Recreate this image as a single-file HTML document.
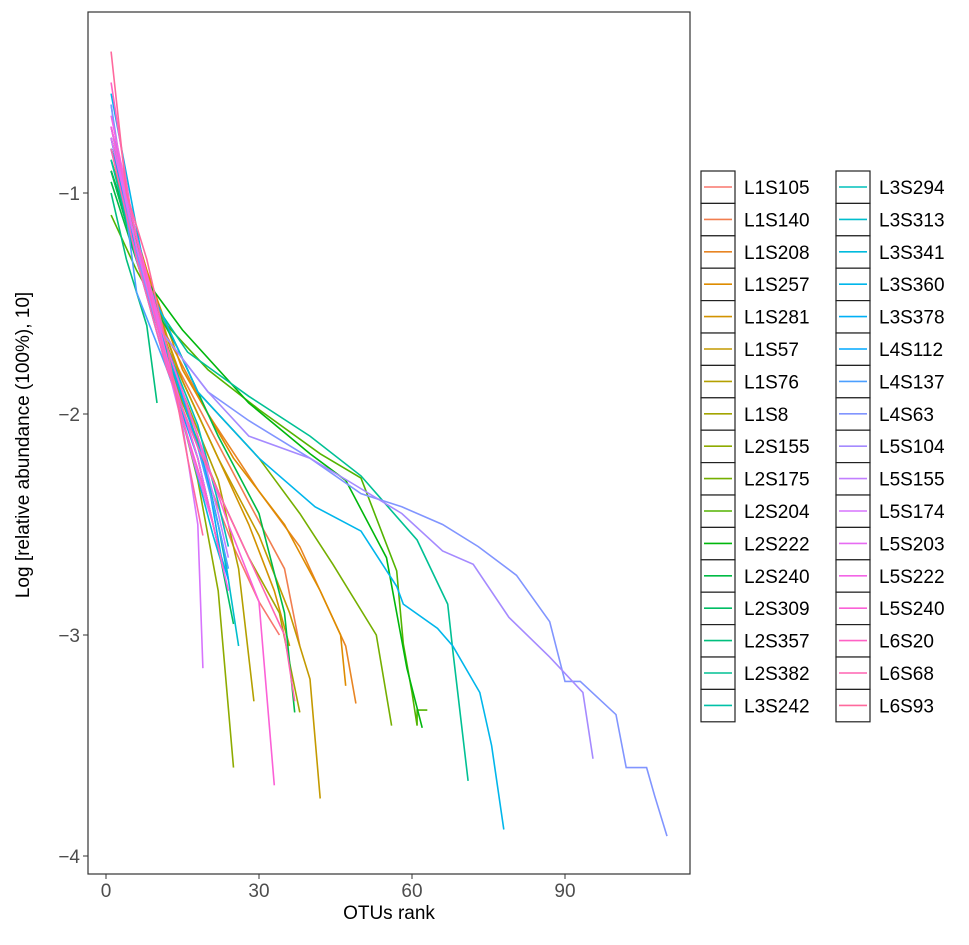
<!DOCTYPE html>
<html><head><meta charset="utf-8"><style>
body{margin:0;background:#fff;font-family:"Liberation Sans",sans-serif}
svg text{font-family:"Liberation Sans",sans-serif}
</style></head><body>
<svg id="chart" width="969" height="940" xmlns="http://www.w3.org/2000/svg"></svg>
<script>
const seriesNames=["L1S105","L1S140","L1S208","L1S257","L1S281","L1S57","L1S76","L1S8","L2S155","L2S175","L2S204","L2S222","L2S240","L2S309","L2S357","L2S382","L3S242","L3S294","L3S313","L3S341","L3S360","L3S378","L4S112","L4S137","L4S63","L5S104","L5S155","L5S174","L5S203","L5S222","L5S240","L6S20","L6S68","L6S93"];
const xTicks=[0,30,60,90];
const yTicks=[-1,-2,-3,-4];
const seriesValues=[
[[1,-0.7],[5,-1.1],[10,-1.55],[15,-1.9],[20,-2.3],[25,-2.6],[30,-2.85],[34,-3.0]],
[[1,-0.8],[6,-1.2],[12,-1.7],[20,-2.05],[28,-2.4],[35,-2.7],[38,-3.05]],
[[1,-0.75],[6,-1.2],[12,-1.65],[20,-2.0],[30,-2.35],[38,-2.6],[44,-2.9],[47,-3.05],[49,-3.31]],
[[1,-0.8],[8,-1.35],[15,-1.8],[25,-2.2],[35,-2.5],[42,-2.8],[46,-3.0],[47,-3.23]],
[[1,-0.9],[8,-1.4],[15,-1.85],[22,-2.2],[28,-2.5],[33,-2.8],[36,-3.05]],
[[1,-0.85],[7,-1.3],[14,-1.8],[22,-2.2],[30,-2.55],[36,-2.9],[40,-3.2],[42,-3.74]],
[[1,-0.9],[8,-1.4],[15,-1.9],[22,-2.3],[26,-2.7],[29,-3.3]],
[[1,-0.8],[8,-1.45],[15,-1.95],[22,-2.35],[28,-2.65],[34,-2.9],[38,-3.35]],
[[1,-0.9],[6,-1.3],[12,-1.75],[18,-2.3],[22,-2.8],[25,-3.6]],
[[1,-0.85],[8,-1.4],[18,-1.9],[30,-2.2],[38,-2.45],[44.5,-2.68],[53,-3.0],[56,-3.41]],
[[1,-1.1],[6,-1.35],[12,-1.6],[20,-1.8],[30,-1.98],[42,-2.18],[50,-2.29],[57,-2.71],[58.3,-3.04],[60,-3.26],[61,-3.41],[61,-3.34],[63,-3.34]],
[[1,-0.9],[8,-1.4],[15,-1.62],[28,-1.95],[40,-2.18],[47,-2.3],[55,-2.65],[57,-2.9],[59,-3.15],[62,-3.42]],
[[1,-0.95],[8,-1.45],[14,-1.7],[22,-2.1],[30,-2.45],[35,-2.9],[37,-3.35]],
[[1,-0.9],[6,-1.3],[12,-1.75],[18,-2.2],[22,-2.6],[25,-2.95]],
[[1,-1.0],[4,-1.3],[8,-1.6],[10,-1.95]],
[[1,-0.8],[8,-1.45],[16,-1.72],[28,-1.92],[40,-2.1],[50,-2.28],[61,-2.57],[67,-2.86],[68,-3.07],[71,-3.66]],
[[1,-0.85],[6,-1.3],[12,-1.7],[18,-2.1],[22,-2.5],[24,-2.75]],
[[1,-0.7],[6,-1.25],[12,-1.7],[18,-2.05],[22,-2.4],[24,-2.6]],
[[1,-0.8],[7,-1.35],[13,-1.8],[19,-2.2],[23,-2.6],[26,-3.05]],
[[1,-0.75],[6,-1.3],[12,-1.75],[17,-2.2],[21,-2.55],[23,-2.7]],
[[1,-0.55],[8,-1.4],[18,-1.9],[30,-2.2],[41,-2.42],[50,-2.53],[57,-2.78],[58.3,-2.86],[65,-2.97],[68,-3.05],[73.3,-3.26],[75.6,-3.5],[78,-3.88]],
[[1,-0.8],[7,-1.35],[14,-1.85],[20,-2.3],[23,-2.7]],
[[1,-0.75],[6,-1.3],[12,-1.8],[18,-2.2],[22,-2.6],[24,-2.75]],
[[1,-0.6],[4,-1.1],[6,-1.45],[12,-1.8],[18,-2.15],[22,-2.5],[24,-2.7]],
[[1,-0.6],[5,-1.2],[10,-1.6],[20,-1.9],[28,-2.03],[40,-2.2],[50,-2.36],[58,-2.42],[66,-2.5],[73,-2.6],[80.5,-2.73],[87,-2.94],[90,-3.21],[93,-3.21],[100,-3.36],[102,-3.6],[106,-3.6],[107.6,-3.73],[110,-3.91]],
[[1,-0.7],[10,-1.6],[20,-1.9],[28,-2.1],[40,-2.2],[48,-2.31],[58,-2.45],[66,-2.62],[72,-2.68],[79,-2.92],[87,-3.1],[93.5,-3.26],[95.5,-3.56]],
[[1,-0.7],[6,-1.25],[12,-1.7],[18,-2.1],[22,-2.45],[24,-2.65]],
[[1,-0.7],[5,-1.15],[10,-1.6],[15,-2.05],[18,-2.5],[19,-3.15]],
[[1,-0.75],[6,-1.25],[12,-1.75],[17,-2.2],[21,-2.5]],
[[1,-0.65],[6,-1.2],[12,-1.75],[18,-2.2],[22,-2.6],[24,-2.8]],
[[1,-0.7],[6,-1.2],[12,-1.7],[18,-2.1],[24,-2.5],[30,-2.85],[33,-3.68]],
[[1,-0.5],[5,-1.1],[10,-1.6],[16,-2.1],[20,-2.4],[23,-2.7]],
[[1,-0.8],[6,-1.3],[12,-1.8],[18,-2.15],[24,-2.45],[30,-2.75],[35,-3.0],[37,-3.3]],
[[1,-0.36],[4,-1.0],[8,-1.3],[12,-1.7],[16,-2.2],[19,-2.55]]
];
const NS="http://www.w3.org/2000/svg";
const svg=document.getElementById('chart');
const P={l:88,r:690,t:12,b:874};
function xs(v){return 106+v*(565-106)/90;}
function ys(v){return 193+(-1-v)*(856-193)/3;}
function mk(tag,attrs,parent){const e=document.createElementNS(NS,tag);for(const k in attrs)e.setAttribute(k,attrs[k]);(parent||svg).appendChild(e);return e;}
function hcl(h,c,l){
  const hr=h*Math.PI/180,U=c*Math.cos(hr),V=c*Math.sin(hr);
  const un=0.19783,vn=0.46832;
  const Y=l>8?Math.pow((l+16)/116,3):l/903.3;
  const u=U/(13*l)+un,v=V/(13*l)+vn;
  const X=Y*9*u/(4*v),Z=Y*(12-3*u-20*v)/(4*v);
  let r=3.2406*X-1.5372*Y-0.4986*Z,g=-0.9689*X+1.8758*Y+0.0415*Z,b=0.0557*X-0.2040*Y+1.0570*Z;
  const f=x=>{x=x<=0.0031308?12.92*x:1.055*Math.pow(x,1/2.4)-0.055;return Math.round(255*Math.min(1,Math.max(0,x)));};
  return `rgb(${f(r)},${f(g)},${f(b)})`;
}
const n=seriesNames.length;
const colors=seriesNames.map((_,i)=>hcl(15+i*360/(n+1),100,65));
let bg=mk('rect',{x:P.l,y:P.t,width:P.r-P.l,height:P.b-P.t,fill:'#fff',stroke:'#333','stroke-width':1.2});


const lines=mk('g',{});


seriesValues.forEach((pts,i)=>{
  const d=pts.map((p,j)=>(j?'L':'M')+xs(p[0]).toFixed(1)+','+ys(p[1]).toFixed(1)).join(' ');
  const p=mk('path',{d:d,fill:'none',stroke:colors[i],'stroke-width':1.6},lines);
  
  
});
xTicks.forEach(t=>{
  mk('line',{x1:xs(t),x2:xs(t),y1:P.b,y2:P.b+5,stroke:'#333'});
  const tx=mk('text',{x:xs(t),y:P.b+23,'text-anchor':'middle','font-size':19,fill:'#4d4d4d'});
  tx.textContent=t;
  
  
});
yTicks.forEach(t=>{
  mk('line',{x1:P.l-5,x2:P.l,y1:ys(t),y2:ys(t),stroke:'#333'});
  const tx=mk('text',{x:P.l-8,y:ys(t)+7,'text-anchor':'end','font-size':19,fill:'#4d4d4d'});
  tx.textContent='\u2212'+Math.abs(t);
  
  
});
const xt=mk('text',{x:389,y:919,'text-anchor':'middle','font-size':19,fill:'#000'});
xt.textContent='OTUs rank';


const yt=mk('text',{x:0,y:0,'text-anchor':'middle','font-size':19,fill:'#000',transform:'translate(29,445) rotate(-90)'});
yt.textContent='Log [relative abundance (100%), 10]';


const lg=mk('g',{});


seriesNames.forEach((nm,i)=>{
  const col=Math.floor(i/17),row=i%17;
  const kx=col?836:701,cy=187+row*32.4;
  const g=mk('g',{},lg);
  
  
  mk('rect',{x:kx,y:cy-16,width:34,height:32.4,fill:'#fff',stroke:'#222','stroke-width':1.2},g);
  mk('line',{x1:kx+3,x2:kx+31,y1:cy,y2:cy,stroke:colors[i],'stroke-width':1.6},g);
  const t=mk('text',{x:kx+43,y:cy+7,'font-size':19,fill:'#000'},g);
  t.textContent=nm;
});
</script>
</body></html>
